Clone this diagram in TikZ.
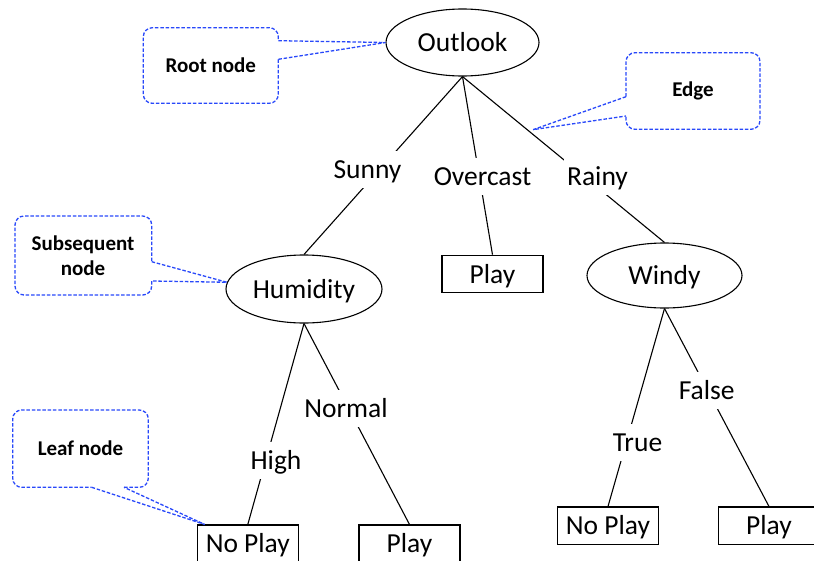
\documentclass[tikz,border=0pt]{standalone}
\usepackage{fontspec}
\setmainfont{Carlito}
\usetikzlibrary{shapes.geometric}
\definecolor{callblue}{RGB}{40,72,250}
\begin{document}
\begin{tikzpicture}[x=1pt,y=-1pt,
  txt/.style={font=\fontsize{27.5}{33}\selectfont,text height=22pt,text depth=4pt},
  ell/.style={txt,ellipse,draw,line width=1.1pt,inner sep=0pt},
  leafbox/.style={txt,rectangle,draw,line width=1.1pt,minimum width=101pt,minimum height=37.5pt,inner sep=0pt},
  lbl/.style={txt,fill=white,inner xsep=3pt,inner ysep=5.5pt},
  branch/.style={line width=1.1pt},
  callline/.style={draw=callblue,line width=1.3pt,dash pattern=on 3.5pt off 1.8pt},
  callbox/.style={callline,rounded corners=9pt},
  calltext/.style={font=\bfseries\fontsize{21}{25}\selectfont,align=center}]
\useasboundingbox (0,0) rectangle (814,560);
\clip (0,0) rectangle (814,560);

% tree nodes
\node[ell,minimum width=153pt,minimum height=67pt] (outlook) at (462.5,42.5) {Outlook};
\node[ell,minimum width=156pt,minimum height=68pt] (humidity) at (304,289) {Humidity};
\node[ell,minimum width=155pt,minimum height=65pt] (windy) at (664.5,275.5) {Windy};
\node[leafbox] (play1) at (492.5,274) {Play};
\node[leafbox] (np1) at (247.8,543.75) {No Play};
\node[leafbox] (play2) at (409.5,543.75) {Play};
\node[leafbox] (np2) at (608,525.75) {No Play};
\node[leafbox] (play3) at (769,525.75) {Play};

% branches
\draw[branch] (outlook.south) -- (humidity.north);
\draw[branch] (outlook.south) -- (play1.north);
\draw[branch] (outlook.south) -- (windy.north);
\draw[branch] (humidity.south) -- (np1.north);
\draw[branch] (humidity.south) -- (play2.north);
\draw[branch] (windy.south) -- (np2.north);
\draw[branch] (windy.south) -- (play3.north);

% branch labels
\node[lbl] (sunny) at (367.5,169.5) {Sunny};
\node[lbl] (overcast) at (482.5,176) {Overcast};
\node[lbl] (rainy) at (597.5,176.7) {Rainy};
\node[lbl] (normal) at (346,408.7) {Normal};
\node[lbl] (high) at (276,460.8) {High};
\node[lbl] (true) at (637.5,442) {True};
\node[lbl] (false) at (706.7,390.3) {False};

% callouts
\path (outlook.south) -- (windy.north) coordinate[pos=0.32] (edgeon);
\coordinate (edgetip) at ([xshift=6pt]edgeon);
\coordinate (leaftip) at ([xshift=8pt]np1.north west);

% Root node
\node[calltext] (rootc) at (210.8,65.5) {Root node};
\draw[callbox] (278.3,59.3) -- (278.3,103.3) -- (143.3,103.3) -- (143.3,27.7) -- (278.3,27.7) -- (278.3,40.7);
\draw[callline] (278.3,40.7) -- (outlook.west) -- (278.3,59.3);

% Edge
\node[calltext] (edgec) at (693,91) {Edge};
\draw[callbox] (626,96.7) -- (626,52.7) -- (760,52.7) -- (760,129.3) -- (626,129.3) -- (626,116);
\draw[callline] (626,96.7) -- (edgetip) -- (626,116);

% Subsequent node
\node[calltext] (subc) at (83,255.5) {Subsequent\\node};
\draw[callbox] (151.7,281) -- (151.7,295) -- (15,295) -- (15,216) -- (151.7,216) -- (151.7,261.7);
\draw[callline] (151.7,261.7) -- (humidity.175) -- (151.7,281);

% Leaf node
\node[calltext] (leafc) at (80.5,448.7) {Leaf node};
\draw[callbox] (124,487.3) -- (148.3,487.3) -- (148.3,410) -- (12.7,410) -- (12.7,487.3) -- (91.7,487.3);
\draw[callline] (91.7,487.3) -- (leaftip) -- (124,487.3);
\end{tikzpicture}
\end{document}
